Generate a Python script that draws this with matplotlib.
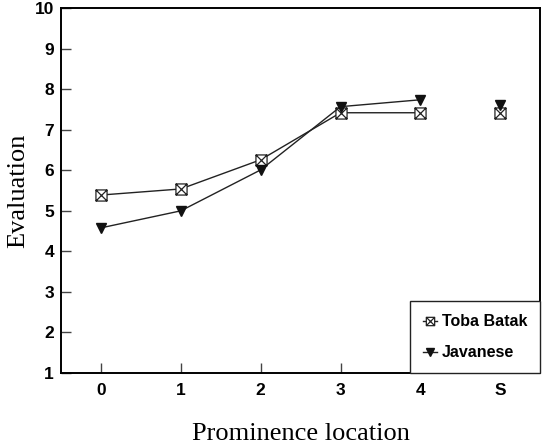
import matplotlib
matplotlib.use("Agg")
import matplotlib.pyplot as plt
from matplotlib.path import Path
import numpy as np

# data
categories = ["0", "1", "2", "3", "4", "S"]
toba_batak = [5.39, 5.54, 6.26, 7.42, 7.42, 7.42]
javanese = [4.58, 5.00, 6.01, 7.57, 7.74, 7.62]

# square with a cross inside
boxx = Path(
    [(-1, -1), (1, -1), (1, 1), (-1, 1), (-1, -1), (-1, -1), (1, 1), (-1, 1), (1, -1)],
    [Path.MOVETO, Path.LINETO, Path.LINETO, Path.LINETO, Path.CLOSEPOLY,
     Path.MOVETO, Path.LINETO, Path.MOVETO, Path.LINETO],
)

tick_font = {"family": "Liberation Sans", "weight": "bold", "size": 12.5}
serif = "Liberation Serif"

fig = plt.figure(figsize=(5.47, 4.46), dpi=100)
ax = fig.add_axes([0.1115, 0.1637, 0.876, 0.818])

x = np.arange(len(categories))
n_line = 5  # S is not joined to the line

ax.plot(x[:n_line], toba_batak[:n_line], color="#222222", lw=1.0, marker=boxx,
        ms=8, mfc="white", mec="#222222", mew=0.9, label="Toba Batak", zorder=3)
ax.plot(x[n_line:], toba_batak[n_line:], ls="none", marker=boxx,
        ms=8, mfc="white", mec="#222222", mew=0.9, zorder=3)
ax.plot(x[:n_line], javanese[:n_line], color="#222222", lw=1.0, marker="v",
        ms=7.5, mfc="#111111", mec="#111111", label="Javanese", zorder=4)
ax.plot(x[n_line:], javanese[n_line:], ls="none", marker="v",
        ms=7.5, mfc="#111111", mec="#111111", zorder=4)

ax.set_xlim(-0.5, 5.5)
ax.set_ylim(1, 10)
ax.set_xticks(x)
ax.set_xticklabels(categories)
ax.set_yticks(range(1, 11))
for lab in ax.get_xticklabels() + ax.get_yticklabels():
    lab.set_fontproperties(tick_font)
ax.tick_params(direction="in", length=7, width=1.0, color="#444444")
ax.tick_params(axis="x", pad=7)
ax.tick_params(axis="y", pad=5)
for s in ax.spines.values():
    s.set_linewidth(1.4)

ax.set_xlabel("Prominence location", family=serif, fontsize=19, labelpad=18)
ax.set_ylabel("Evaluation", family=serif, fontsize=19, labelpad=4)

leg = ax.legend(loc="lower right", borderaxespad=0, fancybox=False,
                edgecolor="#222222", framealpha=1, handlelength=0.9,
                handletextpad=0.3, labelspacing=1.0, borderpad=0.8,
                markerscale=0.75,
                prop={"family": "Liberation Sans", "weight": "bold", "size": 11.5})
leg.get_frame().set_linewidth(1.0)

fig.savefig("out.png", dpi=100)
